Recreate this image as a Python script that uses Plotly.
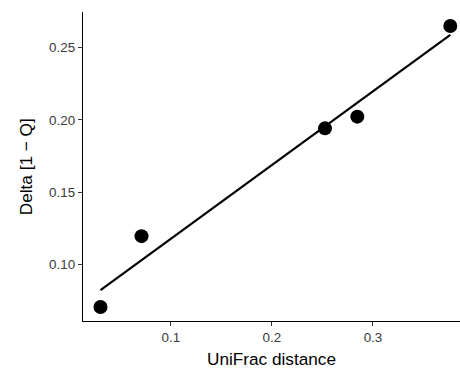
import numpy as np
import plotly.graph_objects as go

unifrac = [0.0304, 0.0710, 0.2525, 0.2845, 0.3765]
delta = [0.0706, 0.1196, 0.1942, 0.2023, 0.2650]
x_ticks = [0.1, 0.2, 0.3]
x_ticklabels = ["0.1", "0.2", "0.3"]
y_ticks = [0.10, 0.15, 0.20, 0.25]
y_ticklabels = ["0.10", "0.15", "0.20", "0.25"]

slope, intercept = np.polyfit(unifrac, delta, 1)
xl = np.array([min(unifrac), max(unifrac)])
yl = slope * xl + intercept

fig = go.Figure()
fig.add_trace(go.Scatter(x=xl, y=yl, mode="lines",
                         line=dict(color="black", width=2.2), hoverinfo="skip"))
fig.add_trace(go.Scatter(x=unifrac, y=delta, mode="markers",
                         marker=dict(color="black", size=14, line=dict(width=0))))

font = "Liberation Sans, Arial, Helvetica, sans-serif"
fig.update_layout(
    width=460, height=369,
    margin=dict(l=83, r=0, t=12, b=48),
    paper_bgcolor="white", plot_bgcolor="white",
    showlegend=False,
    font=dict(family=font, color="black"),
    annotations=[
        dict(text="UniFrac distance", xref="paper", yref="paper", x=0.5, y=-0.1245,
             xanchor="center", yanchor="middle", showarrow=False,
             font=dict(size=17.2, color="black")),
        dict(text="Delta [1 \u2212 Q]", xref="paper", yref="paper", x=-0.152, y=0.5,
             xanchor="center", yanchor="middle", showarrow=False, textangle=-90,
             font=dict(size=17.2, color="black")),
    ],
)
fig.update_xaxes(
    range=[0.0131, 0.3861], tickvals=x_ticks, ticktext=x_ticklabels,
    showgrid=False, zeroline=False, showline=True, linecolor="black", linewidth=1.3,
    ticks="outside", ticklen=4, tickwidth=1.1, tickcolor="#333333",
    tickfont=dict(size=13.4, color="#3A3A3A"),
)
fig.update_yaxes(
    range=[0.0609, 0.2747], tickvals=y_ticks, ticktext=y_ticklabels,
    showgrid=False, zeroline=False, showline=True, linecolor="black", linewidth=1.3,
    ticks="outside", ticklen=4, tickwidth=1.1, tickcolor="#333333",
    tickfont=dict(size=13.4, color="#3A3A3A"),
)
fig.write_html("out.html")
